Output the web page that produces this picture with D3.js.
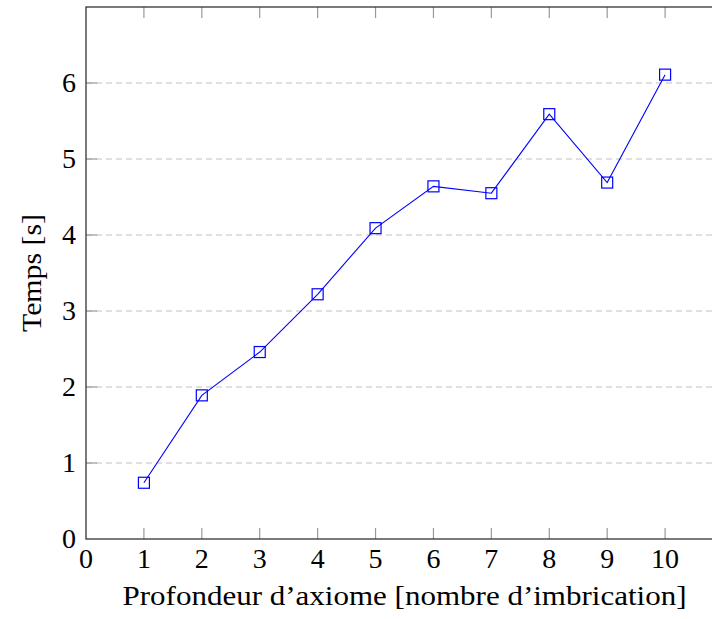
<!DOCTYPE html>
<html>
<head>
<meta charset="utf-8">
<script src="https://cdn.jsdelivr.net/npm/d3@7"></script>
<style>
  body { margin: 0; background: #fff; }
  svg text { font-family: "Liberation Serif", "DejaVu Serif", serif; fill: #000; }
</style>
</head>
<body>
<svg id="chart" width="712" height="619"></svg>
<script>
// data
var depths = [1, 2, 3, 4, 5, 6, 7, 8, 9, 10];
var times = [0.74, 1.89, 2.46, 3.22, 4.09, 4.64, 4.55, 5.59, 4.69, 6.11];
var xTicks = [0, 1, 2, 3, 4, 5, 6, 7, 8, 9, 10, 11];
var yTicks = [0, 1, 2, 3, 4, 5, 6];

var svg = d3.select("#chart"),
    margin = {top: 7, left: 86},
    plotW = 637, plotH = 532;

var x = d3.scaleLinear().domain([0, 11]).range([margin.left, margin.left + plotW]);
var y = d3.scaleLinear().domain([0, 7]).range([margin.top + plotH, margin.top]);

// grid
svg.append("g")
  .selectAll("line")
  .data(yTicks.filter(function(d) { return d > 0; }))
  .enter().append("line")
    .attr("x1", x(0)).attr("x2", x(11))
    .attr("y1", function(d) { return y(d); })
    .attr("y2", function(d) { return y(d); })
    .attr("stroke", "#c0c0c0")
    .attr("stroke-width", 1)
    .attr("stroke-dasharray", "6,4");

// inward ticks (bottom + mirrored top)
var tickLen = 11;
var tg = svg.append("g").attr("stroke", "#999").attr("stroke-width", 1.2);
xTicks.filter(function(d) { return d > 0; }).forEach(function(d) {
  tg.append("line").attr("x1", x(d)).attr("x2", x(d)).attr("y1", y(0)).attr("y2", y(0) - tickLen);
  tg.append("line").attr("x1", x(d)).attr("x2", x(d)).attr("y1", y(7)).attr("y2", y(7) + tickLen);
});
yTicks.filter(function(d) { return d > 0; }).forEach(function(d) {
  tg.append("line").attr("x1", x(0)).attr("x2", x(0) + tickLen).attr("y1", y(d)).attr("y2", y(d));
});

// frame
svg.append("rect")
  .attr("x", x(0)).attr("y", y(7))
  .attr("width", x(11) - x(0)).attr("height", y(0) - y(7))
  .attr("fill", "none")
  .attr("stroke", "#333")
  .attr("stroke-width", 1.3);

// tick labels
svg.append("g")
  .selectAll("text")
  .data(xTicks.slice(0, 11))
  .enter().append("text")
    .attr("x", function(d) { return x(d); })
    .attr("y", 568)
    .attr("text-anchor", "middle")
    .attr("font-size", 28)
    .text(function(d) { return d; });

svg.append("g")
  .selectAll("text")
  .data(yTicks)
  .enter().append("text")
    .attr("x", x(0) - 10)
    .attr("y", function(d) { return y(d); })
    .attr("dy", "0.33em")
    .attr("text-anchor", "end")
    .attr("font-size", 28)
    .text(function(d) { return d; });

// line + square markers
var pts = depths.map(function(d, i) { return [d, times[i]]; });
svg.append("path")
  .datum(pts)
  .attr("fill", "none")
  .attr("stroke", "#0000ff")
  .attr("stroke-width", 1.1)
  .attr("d", d3.line().x(function(d) { return x(d[0]); }).y(function(d) { return y(d[1]); }));

var ms = 11;
svg.append("g")
  .selectAll("rect")
  .data(pts)
  .enter().append("rect")
    .attr("x", function(d) { return x(d[0]) - ms / 2; })
    .attr("y", function(d) { return y(d[1]) - ms / 2; })
    .attr("width", ms).attr("height", ms)
    .attr("fill", "none")
    .attr("stroke", "#0000ff")
    .attr("stroke-width", 1.2);

// axis titles
svg.append("text")
  .attr("x", (x(0) + x(11)) / 2)
  .attr("y", 605)
  .attr("text-anchor", "middle")
  .attr("font-size", 28)
  .attr("textLength", 564)
  .attr("lengthAdjust", "spacingAndGlyphs")
  .text("Profondeur d\u2019axiome [nombre d\u2019imbrication]");

svg.append("text")
  .attr("transform", "translate(41," + y(3.5) + ") rotate(-90)")
  .attr("text-anchor", "middle")
  .attr("font-size", 28)
  .attr("textLength", 118)
  .attr("lengthAdjust", "spacingAndGlyphs")
  .text("Temps [s]");
</script>
</body>
</html>
